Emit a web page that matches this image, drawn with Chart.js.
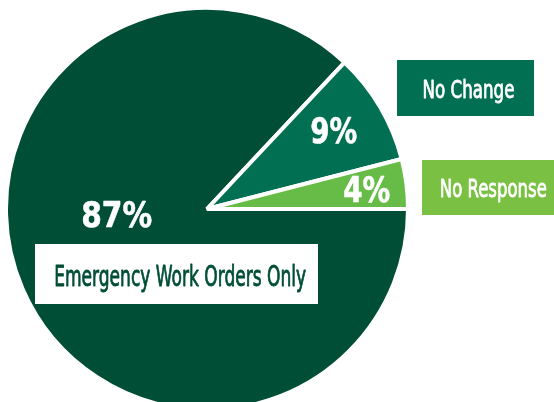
<!DOCTYPE html>
<html>
<head>
<meta charset="utf-8">
<script src="https://cdn.jsdelivr.net/npm/chart.js@4/dist/chart.umd.min.js"></script>
<style>
  html, body { margin: 0; padding: 0; background: #ffffff; }
  #pie { display: block; }
</style>
</head>
<body>
<canvas id="pie" width="554" height="402"></canvas>
<script>
const categories = ['Emergency Work Orders Only', 'No Change', 'No Response'];
const shares = [87, 9, 4];
const sliceColors = ['#014e36', '#006f52', '#67bb47'];

// name tags: one per category, same order as above
const tags = [
  { x: 35, y: 244, w: 283, h: 60, fill: '#ffffff', ink: '#014e36', cx: 180.2, base: 286, span: 252, size: 27.5 },
  { x: 397, y: 60, w: 137, h: 56, fill: '#006f52', ink: '#ffffff', cx: 468.5, base: 97.5, span: 92, size: 25 },
  { x: 422, y: 160, w: 132, h: 55, fill: '#7ac143', ink: '#ffffff', cx: 493.3, base: 196.7, span: 107, size: 25 },
];
// where each percentage sits
const pctSpots = [
  { cx: 116.7, base: 226.7, span: 71 },
  { cx: 333.7, base: 143.3, span: 47 },
  { cx: 366.7, base: 202, span: 47 },
];

const narrow = '"DejaVu Sans Condensed", "Liberation Sans Narrow", "DejaVu Sans", sans-serif';

// draw text centred on cx, squeezed/stretched to the given width;
// an optional thin outline thickens the strokes a little
function fitText(ctx, str, cx, base, span, font, thicken) {
  ctx.font = font;
  const w = ctx.measureText(str).width;
  ctx.save();
  ctx.translate(cx, base);
  ctx.scale(span / w, 1);
  ctx.textAlign = 'center';
  ctx.textBaseline = 'alphabetic';
  ctx.fillText(str, 0, 0);
  if (thicken) {
    ctx.strokeStyle = ctx.fillStyle;
    ctx.lineWidth = thicken;
    ctx.lineJoin = 'round';
    ctx.strokeText(str, 0, 0);
  }
  ctx.restore();
}

const tagPlugin = {
  id: 'tags',
  afterDatasetsDraw(chart) {
    const ctx = chart.ctx;
    tags.forEach((t, i) => {
      ctx.fillStyle = t.fill;
      ctx.fillRect(t.x, t.y, t.w, t.h);
      ctx.fillStyle = t.ink;
      fitText(ctx, categories[i], t.cx, t.base, t.span, `${t.size}px ${narrow}`, 0.8);
    });
    ctx.fillStyle = '#ffffff';
    pctSpots.forEach((p, i) => {
      fitText(ctx, `${shares[i]}%`, p.cx, p.base, p.span, 'bold 35px "DejaVu Sans", sans-serif', 0.6);
    });
  },
};

new Chart(document.getElementById('pie'), {
  type: 'pie',
  data: {
    labels: categories,
    datasets: [{
      data: shares,
      backgroundColor: sliceColors,
      borderColor: '#ffffff',
      borderWidth: 4,
      radius: 201,
    }],
  },
  options: {
    responsive: false,
    animation: false,
    rotation: 90,
    layout: { padding: { left: 0, right: 140, top: 16, bottom: 0 } },
    plugins: { legend: { display: false }, tooltip: { enabled: false } },
  },
  plugins: [tagPlugin],
});
</script>
</body>
</html>
